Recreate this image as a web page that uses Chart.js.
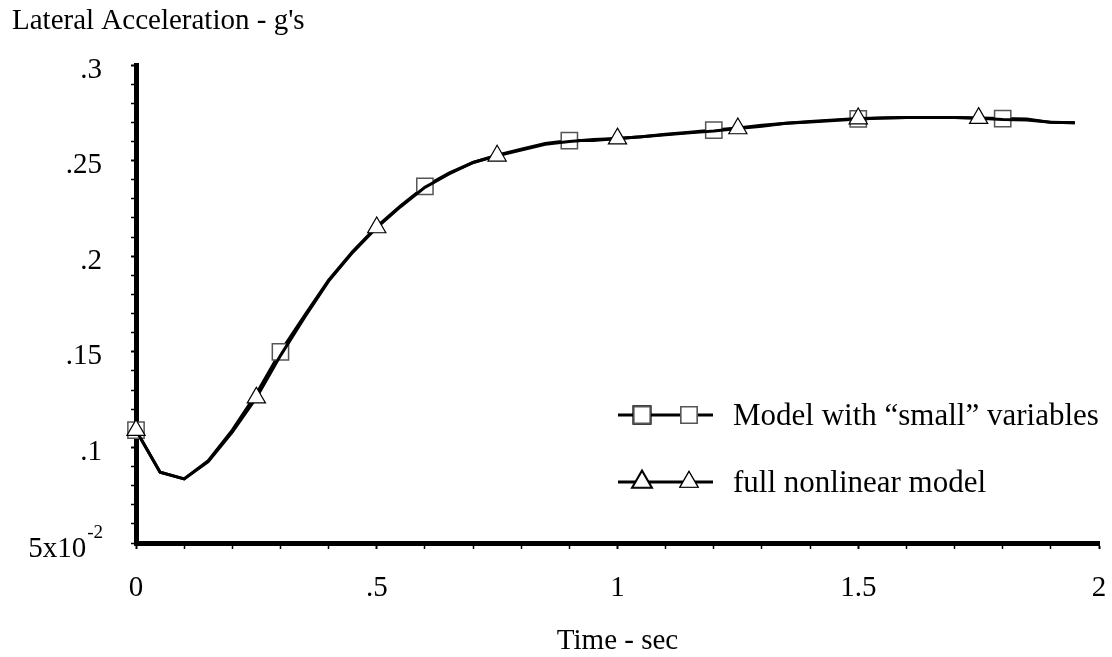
<!DOCTYPE html>
<html>
<head>
<meta charset="utf-8">
<script src="https://cdn.jsdelivr.net/npm/chart.js@4/dist/chart.umd.min.js"></script>
<style>
html,body{margin:0;padding:0;background:#fff;}
#wrap{width:1112px;height:657px;position:relative;}
</style>
</head>
<body>
<div id="wrap"><canvas id="c" width="1112" height="657"></canvas></div>
<script>
// ---- data ----
const timeSec = [0,0.05,0.1,0.15,0.2,0.25,0.3,0.35,0.4,0.45,0.5,0.55,0.6,0.65,0.7,0.75,0.8,0.85,0.9,0.95,
                 1.0,1.05,1.1,1.15,1.2,1.25,1.3,1.35,1.4,1.45,1.5,1.55,1.6,1.65,1.7,1.75,1.8,1.85,1.9,1.95];
const smallModel = [0.109,0.087,0.0835,0.093,0.109,0.128,0.150,0.169,0.1875,0.2025,0.2155,0.2265,0.2365,0.2435,0.249,0.2528,0.256,0.259,0.2605,0.2605,
                    0.2615,0.2625,0.2638,0.2648,0.266,0.267,0.2685,0.2695,0.2702,0.271,0.2718,0.2723,0.2725,0.2725,0.2725,0.2723,0.272,0.2718,0.270,0.2698];
const fullModel = [0.109,0.087,0.0835,0.0925,0.108,0.126,0.148,0.168,0.187,0.202,0.215,0.226,0.236,0.243,0.249,0.2525,0.2555,0.2585,0.260,0.261,
                   0.2615,0.2625,0.2635,0.2645,0.2655,0.2668,0.268,0.2695,0.2705,0.2713,0.272,0.2723,0.2725,0.2725,0.2725,0.2722,0.2715,0.2712,0.270,0.2698];
const smallMarkerTimes = [0,0.3,0.6,0.9,1.2,1.5,1.8];
const fullMarkerTimes = [0,0.25,0.5,0.75,1.0,1.25,1.5,1.75];
const seriesLabels = ['Model with \u201Csmall\u201D variables','full nonlinear model'];
const xTickLabels = {0:'0',0.5:'.5',1:'1',1.5:'1.5',2:'2'};
const yTickLabels = {0.1:'.1',0.15:'.15',0.2:'.2',0.25:'.25',0.3:'.3'};
const yMinLabel = ['5x10','-2'];
const xTitle = 'Time - sec';
const yTitle = "Lateral Acceleration - g's";

const FONT = '"Liberation Serif", "Times New Roman", serif';
const FS = 29;
const LEG_FS = 31;

function isMarker(list, t){ return list.some(m => Math.abs(m - t) < 1e-6); }
function lookup(map, v){
  for (const k in map){ if (Math.abs(parseFloat(k) - v) < 1e-6) return map[k]; }
  return '';
}

const squareR = 11.5, triR = 10.5;

const ds = [
  {
    label: seriesLabels[0],
    data: timeSec.map((t,i)=>({x:t,y:smallModel[i]})),
    borderColor:'#000', borderWidth:3, tension:0,
    pointStyle:'rect',
    pointRadius: ctx => isMarker(smallMarkerTimes, timeSec[ctx.dataIndex]) ? squareR : 0,
    pointBackgroundColor:'#fff', pointBorderColor:'#555', pointBorderWidth:1.5,
    order: 1
  },
  {
    label: seriesLabels[1],
    data: timeSec.map((t,i)=>({x:t,y:fullModel[i]})),
    borderColor:'#000', borderWidth:3, tension:0,
    pointStyle:'triangle',
    pointRadius: ctx => isMarker(fullMarkerTimes, timeSec[ctx.dataIndex]) ? triR : 0,
    pointBackgroundColor:'#fff', pointBorderColor:'#000', pointBorderWidth:1.2,
    order: 0
  }
];

const deco = {
  id:'deco',
  afterDraw(chart){
    const c = chart.ctx, a = chart.chartArea;
    c.save();
    c.fillStyle = '#000';
    c.font = FS + 'px ' + FONT;
    c.textBaseline = 'alphabetic';
    c.textAlign = 'left';
    c.fillText(yTitle, 12, 29);
    c.textAlign = 'center';
    c.fillText(xTitle, (a.left + a.right)/2, 649);
    // y min label with superscript
    const yS = chart.scales.y;
    const py = yS.getPixelForValue(0.05);
    c.font = '19px ' + FONT;
    c.textAlign = 'right';
    const supW = c.measureText(yMinLabel[1]).width;
    const rightEdge = a.left - 33;
    c.fillText(yMinLabel[1], rightEdge, py - 5);
    c.font = FS + 'px ' + FONT;
    c.fillText(yMinLabel[0], rightEdge - supW - 1, py + 14);
    // legend
    const rows = [415, 482];
    const lx0 = 618, lx1 = 713, m1 = 642, m2 = 689, tx = 733;
    chart.data.datasets.forEach((d, i) => {
      const y = rows[i];
      c.strokeStyle = '#000'; c.lineWidth = 3;
      c.beginPath(); c.moveTo(lx0, y); c.lineTo(lx1, y); c.stroke();
      [m1, m2].forEach(mx => {
        Chart.helpers.drawPoint(c, {
          pointStyle: d.pointStyle,
          radius: d.pointStyle === 'rect' ? squareR : triR,
          borderWidth: d.pointBorderWidth, rotation: 0
        }, mx, y);
        c.fillStyle = '#fff'; c.strokeStyle = d.pointBorderColor; c.lineWidth = d.pointBorderWidth;
        c.fill(); c.stroke();
      });
      c.fillStyle = '#000';
      c.font = LEG_FS + 'px ' + FONT;
      c.textAlign = 'left';
      c.textBaseline = 'middle';
      c.fillText(d.label, tx, y + 2);
    });
    c.restore();
  }
};

new Chart(document.getElementById('c'), {
  type:'line',
  data:{ datasets: ds },
  options:{
    responsive:false, animation:false,
    clip:false,
    layout:{ padding:{ top:65, right:13, left:0, bottom:0 } },
    plugins:{ legend:{display:false}, tooltip:{enabled:false} },
    scales:{
      x:{
        type:'linear', min:0, max:2,
        afterFit(s){ s.height = 114; s.paddingLeft = 0; s.paddingRight = 0; },
        border:{ display:true, color:'#000', width:5 },
        grid:{ drawOnChartArea:false, drawTicks:true, tickLength:6, color:'#000',
               tickWidth: ctx => (lookup(xTickLabels, ctx.tick.value) !== '' ? 2 : 1.5) },
        ticks:{ stepSize:0.1, autoSkip:false, maxRotation:0, padding:22, color:'#000',
                font:{ family:FONT, size:FS },
                callback: v => lookup(xTickLabels, v) }
      },
      y:{
        type:'linear', min:0.05, max:0.3,
        afterFit(s){ s.width = 136; s.paddingTop = 0; s.paddingBottom = 0; },
        border:{ display:true, color:'#000', width:5 },
        grid:{ drawOnChartArea:false, drawTicks:true, tickLength:5, color:'#000',
               tickWidth: ctx => (lookup(yTickLabels, ctx.tick.value) !== '' ? 2 : 1.5) },
        ticks:{ stepSize:0.01, autoSkip:false, padding:29, labelOffset:5, color:'#000',
                font:{ family:FONT, size:FS },
                callback: v => lookup(yTickLabels, v) }
      }
    }
  },
  plugins:[deco]
});
</script>
</body>
</html>
